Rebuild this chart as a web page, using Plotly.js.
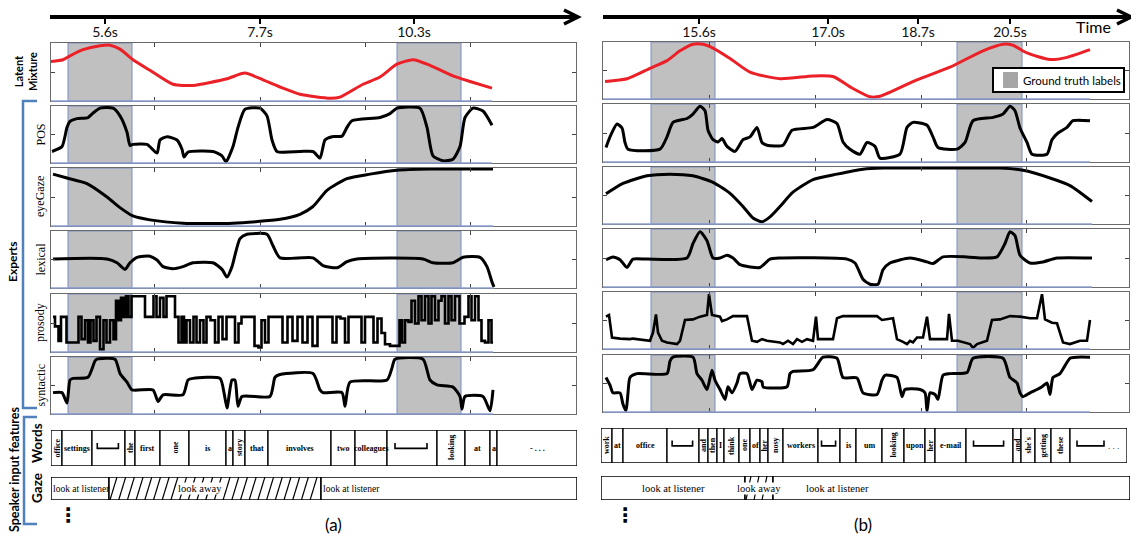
<!DOCTYPE html>
<html><head><meta charset="utf-8">
<script src="https://cdn.plot.ly/plotly-3.0.1.min.js"></script>
<style>html,body{margin:0;padding:0;background:#fff}#chart{width:1131px;height:538px}</style>
</head><body><div id="chart"></div>
<script>
// ---------------- DATA ----------------
// time-axis labels (panel x units)
const timeTickPosA = [54, 209, 363];
const timeTickTextA = ['5.6s', '7.7s', '10.3s'];
const timeTickPosB = [96, 225, 315, 407];
const timeTickTextB = ['15.6s', '17.0s', '18.7s', '20.5s'];
// ground-truth intervals
const truthA = [[17, 81], [346, 410]];
const truthB = [[48, 112], [354, 419]];
const expertNames = ['POS', 'eyeGaze', 'lexical', 'prosody', 'syntactic'];

// (a) series: [time, value]
const latentA = [[0,0.69],[12,0.72],[19,0.79],[32,0.90],[49,0.97],[59,0.98],[69,0.91],[82,0.72],[99,0.53],[122,0.28],[142,0.26],[176,0.38],[194,0.48],[212,0.36],[232,0.21],[249,0.10],[279,0.03],[289,0.05],[312,0.28],[329,0.41],[346,0.64],[362,0.72],[379,0.62],[402,0.43],[419,0.33],[441,0.21]];
const posA = [[1,0.19],[11,0.28],[16,0.63],[19,0.74],[26,0.79],[37,0.81],[42,0.89],[49,0.98],[62,0.98],[69,0.84],[76,0.54],[79,0.30],[82,0.32],[96,0.32],[106,0.16],[109,0.40],[116,0.46],[126,0.40],[131,0.23],[133,0.09],[137,0.18],[162,0.19],[171,0.11],[175,0.0],[182,0.28],[187,0.63],[194,0.96],[209,0.98],[216,0.84],[221,0.40],[226,0.19],[249,0.19],[262,0.19],[269,0.07],[274,0.40],[281,0.46],[291,0.47],[296,0.63],[301,0.75],[329,0.81],[339,0.88],[346,0.98],[369,0.98],[376,0.63],[382,0.11],[392,0.02],[402,0.05],[409,0.28],[414,0.81],[422,0.98],[432,0.93],[441,0.67]];
const gazeA = [[2,0.91],[16,0.84],[36,0.74],[56,0.50],[69,0.31],[82,0.16],[99,0.09],[132,0.03],[182,0.03],[229,0.10],[249,0.19],[262,0.33],[276,0.62],[296,0.83],[319,0.91],[346,0.98],[379,1.0],[442,1.0]];
const lexA = [[2,0.51],[56,0.51],[66,0.44],[74,0.32],[79,0.44],[86,0.54],[99,0.56],[106,0.49],[112,0.37],[122,0.33],[132,0.37],[142,0.44],[162,0.44],[171,0.32],[176,0.18],[181,0.37],[184,0.58],[189,0.88],[196,0.96],[216,0.96],[222,0.75],[229,0.53],[262,0.53],[272,0.39],[286,0.35],[296,0.46],[306,0.51],[372,0.51],[382,0.44],[402,0.44],[412,0.54],[429,0.54],[436,0.37],[441,0.09],[443,0.0]];
const prosA = [[2,0.61],[6,0.44],[9,0.18],[11,0.61],[14,0.61],[17,0.15],[26,0.15],[29,0.61],[32,0.21],[36,0.55],[38,0.15],[41,0.55],[44,0.18],[47,0.61],[51,0.03],[54,0.55],[57,0.15],[61,0.55],[64,0.21],[66,0.90],[69,0.55],[71,0.95],[74,0.61],[76,0.98],[79,0.61],[82,0.98],[86,0.98],[92,0.98],[96,0.61],[101,0.61],[104,0.98],[107,0.61],[111,0.95],[114,0.61],[117,0.98],[122,0.98],[126,0.61],[129,0.15],[132,0.61],[134,0.15],[137,0.55],[141,0.15],[144,0.61],[147,0.15],[151,0.55],[154,0.15],[157,0.61],[162,0.55],[166,0.15],[169,0.61],[174,0.21],[177,0.61],[182,0.61],[186,0.15],[189,0.49],[192,0.61],[201,0.61],[206,0.09],[209,0.06],[212,0.55],[216,0.15],[219,0.61],[224,0.61],[229,0.61],[234,0.15],[239,0.61],[244,0.18],[249,0.61],[254,0.15],[259,0.61],[264,0.09],[269,0.61],[279,0.61],[284,0.15],[287,0.61],[292,0.58],[296,0.15],[299,0.61],[309,0.61],[312,0.15],[316,0.61],[321,0.61],[324,0.15],[329,0.58],[332,0.32],[336,0.12],[342,0.09],[347,0.09],[350,0.55],[352,0.15],[356,0.55],[359,0.52],[362,0.90],[366,0.49],[369,0.98],[372,0.55],[376,0.98],[379,0.49],[382,0.98],[386,0.55],[389,0.90],[392,0.98],[396,0.49],[399,0.98],[402,0.55],[406,0.98],[411,0.49],[416,0.61],[419,0.98],[422,0.55],[426,0.98],[429,0.55],[432,0.18],[436,0.15],[439,0.55],[442,0.15]];
const synA = [[2,0.37],[11,0.37],[16,0.18],[19,0.60],[22,0.63],[37,0.65],[44,0.95],[46,0.98],[64,0.98],[69,0.72],[76,0.56],[81,0.42],[102,0.42],[107,0.21],[112,0.33],[132,0.33],[137,0.60],[142,0.63],[169,0.63],[173,0.37],[176,0.09],[181,0.60],[184,0.60],[187,0.12],[191,0.30],[219,0.30],[224,0.65],[229,0.70],[262,0.72],[269,0.42],[272,0.37],[291,0.37],[294,0.12],[299,0.56],[336,0.60],[341,0.82],[344,0.98],[372,0.98],[379,0.60],[386,0.51],[402,0.47],[409,0.30],[411,0.07],[414,0.30],[432,0.30],[439,0.04],[442,0.42]];

// (b) series
const latentB = [[2,0.30],[24,0.35],[47,0.54],[64,0.68],[77,0.86],[90,0.98],[100,0.98],[110,0.91],[127,0.72],[147,0.47],[177,0.35],[210,0.40],[230,0.39],[249,0.18],[267,0.02],[277,0.03],[314,0.33],[347,0.56],[380,0.86],[400,0.98],[410,0.96],[424,0.82],[447,0.70],[464,0.74],[487,0.88]];
const posB = [[3,0.24],[7,0.43],[14,0.66],[19,0.59],[22,0.33],[25,0.21],[57,0.21],[64,0.43],[70,0.69],[84,0.76],[90,0.84],[97,0.98],[102,0.90],[105,0.55],[110,0.38],[115,0.34],[119,0.40],[124,0.26],[132,0.17],[140,0.38],[147,0.43],[154,0.60],[159,0.33],[164,0.28],[180,0.28],[189,0.55],[210,0.60],[224,0.74],[234,0.67],[240,0.34],[247,0.21],[257,0.12],[264,0.33],[272,0.26],[277,0.05],[297,0.12],[304,0.60],[310,0.69],[324,0.64],[330,0.43],[335,0.24],[354,0.21],[362,0.33],[370,0.72],[390,0.78],[400,0.84],[407,0.98],[412,0.90],[417,0.59],[424,0.33],[429,0.12],[444,0.12],[449,0.38],[455,0.50],[464,0.60],[470,0.72],[487,0.72]];
const gazeB = [[3,0.53],[20,0.72],[44,0.86],[67,0.89],[90,0.86],[110,0.74],[127,0.54],[140,0.30],[150,0.09],[159,0.02],[167,0.11],[177,0.30],[190,0.56],[210,0.79],[234,0.89],[260,0.98],[280,1.0],[347,1.0],[397,1.0],[420,0.96],[447,0.82],[467,0.68],[489,0.39]];
const lexB = [[3,0.47],[10,0.52],[17,0.47],[24,0.33],[30,0.48],[44,0.48],[84,0.50],[90,0.76],[97,0.97],[104,0.81],[110,0.50],[117,0.50],[124,0.55],[130,0.50],[137,0.38],[147,0.34],[157,0.33],[167,0.48],[177,0.50],[244,0.48],[252,0.41],[260,0.12],[267,0.03],[275,0.03],[280,0.29],[287,0.41],[307,0.50],[324,0.43],[330,0.40],[340,0.52],[364,0.52],[380,0.50],[394,0.52],[402,0.76],[407,0.97],[412,0.90],[417,0.55],[427,0.41],[440,0.43],[454,0.50],[489,0.50]];
const prosB = [[3,0.57],[6,0.60],[9,0.19],[17,0.17],[27,0.16],[30,0.17],[47,0.13],[50,0.28],[53,0.61],[55,0.28],[59,0.13],[64,0.10],[74,0.07],[77,0.13],[82,0.51],[90,0.52],[97,0.57],[104,0.60],[106,0.98],[109,0.60],[117,0.57],[119,0.49],[124,0.52],[130,0.58],[144,0.58],[149,0.13],[154,0.11],[159,0.16],[164,0.13],[170,0.11],[177,0.10],[180,0.07],[185,0.13],[190,0.07],[194,0.16],[199,0.11],[204,0.16],[210,0.13],[213,0.57],[215,0.16],[230,0.16],[234,0.54],[240,0.58],[274,0.58],[279,0.51],[290,0.54],[294,0.16],[300,0.11],[304,0.07],[307,0.13],[310,0.10],[314,0.19],[320,0.19],[324,0.57],[327,0.16],[344,0.16],[346,0.62],[349,0.13],[355,0.13],[367,0.07],[370,0.0],[374,0.07],[384,0.13],[389,0.51],[397,0.52],[407,0.58],[417,0.57],[427,0.54],[434,0.54],[439,0.98],[442,0.52],[449,0.46],[454,0.45],[460,0.10],[467,0.07],[477,0.13],[484,0.13],[487,0.51]];
const synB = [[3,0.61],[7,0.47],[10,0.33],[17,0.33],[20,0.12],[23,0.0],[25,0.33],[27,0.61],[34,0.68],[64,0.68],[67,0.91],[70,0.98],[90,0.98],[94,0.68],[99,0.56],[104,0.39],[109,0.74],[112,0.56],[117,0.39],[122,0.21],[125,0.44],[129,0.33],[134,0.51],[137,0.68],[144,0.68],[149,0.39],[154,0.56],[159,0.53],[160,0.44],[184,0.44],[187,0.68],[190,0.72],[210,0.75],[220,0.98],[234,0.96],[240,0.61],[254,0.60],[260,0.33],[274,0.30],[279,0.56],[282,0.65],[294,0.61],[299,0.26],[302,0.39],[317,0.39],[322,0.33],[324,0.0],[327,0.33],[332,0.30],[335,0.21],[340,0.65],[347,0.68],[364,0.70],[370,0.96],[400,0.96],[407,0.61],[414,0.51],[417,0.33],[420,0.26],[427,0.33],[434,0.39],[439,0.44],[444,0.51],[447,0.30],[450,0.61],[457,0.68],[467,0.96],[474,0.98],[487,0.98]];

// words (token '_' = pause)
const wordsA = ['office','settings','_','the','first','one','is','a','story','that','involves','two','colleagues','_','looking','at','a','- . . .'];
const wordEdgesA = [0,11,41,74,84,109,138,175,182,194,217,280,304,336,386,414,439,446,526];
const wordsB = ['work','at','office','_','and','then','I','think','one','of','her','nosy','workers','_','is','um','looking','upon','her','e-mail','_','and',"she's",'getting','these','_. . .'];
const wordEdgesB = [0,11,22,66,98,107,116,123,138,149,159,167,182,217,239,255,281,303,324,334,365,412,420,434,450,469,526];
const verticalWords = ['office','the','story','looking','work','and','then','think','one','her','nosy',"she's",'getting','these'];
const horizontalInB = ['office'];
// gaze
const gazeLabelsA = ['look at listener','look away','look at listener'];
const gazeEdgesA = [0, 58, 270, 526];
const gazeLabelsB = ['look at listener','look away','look at listener'];
const gazeEdgesB = [0, 144, 172, 529];

// ---------------- LAYOUT ----------------
const W = 1131, H = 538;
const X = p => p / W, Y = p => 1 - p / H;
const layout = {width: W, height: H, margin: {l:0, r:0, t:0, b:0}, paper_bgcolor: '#fff', plot_bgcolor: 'rgba(0,0,0,0)', showlegend: false};
const traces = [], shapes = [], annotations = [];
const FR = '#6a6a6a';
const SERIF = 'Liberation Serif, serif';

const cols = [
  {dom:[51,576], rows:[[43,101],[106,163],[168,226],[231,288],[294,352],[357,414]], ticks:[103,209,314,419], truth: truthA, series:[latentA,posA,gazeA,lexA,prosA,synA], prosShape:'hvh'},
  {dom:[603,1129], rows:[[42,99],[104,162],[167,224],[229,287],[292,349],[355,412]], ticks:[106,212,318,423], truth: truthB, series:[latentB,posB,gazeB,lexB,prosB,synB], prosShape:'linear'}
];
let n = 1;
const ax = k => (k === 1 ? '' : String(k));
cols.forEach((col, ci) => {
  col.rows.forEach((r, ri) => {
    const k = n++;
    const xid = 'x' + ax(k), yid = 'y' + ax(k);
    layout['xaxis' + ax(k)] = {domain:[X(col.dom[0]), X(col.dom[1])], range:[0, col.dom[1]-col.dom[0]], anchor: yid,
      showline:true, mirror:'ticks', linecolor:FR, linewidth:1, ticks:'inside', ticklen:4, tickwidth:1, tickcolor:'#444',
      tickvals: col.ticks, showticklabels:false, showgrid:false, zeroline:false, fixedrange:true};
    layout['yaxis' + ax(k)] = {domain:[Y(r[1]), Y(r[0])], range:[-0.02, 1.02], anchor: xid,
      showline:true, mirror:'ticks', linecolor:FR, linewidth:1, ticks:'inside', ticklen:4, tickwidth:1, tickcolor:'#444',
      tickvals:[0.5], showticklabels:false, showgrid:false, zeroline:false, fixedrange:true};
    const s = col.series[ri];
    traces.push({type:'scatter', mode:'lines', x: s.map(p => p[0]), y: s.map(p => p[1]), xaxis: xid, yaxis: yid,
      line:{color: ri === 0 ? '#ec2027' : '#000', width: ri === 4 ? 2.6 : 3, shape: ri === 4 ? col.prosShape : 'spline', smoothing: 0.6},
      hoverinfo:'skip', cliponaxis: true});
    col.truth.forEach(g => shapes.push({type:'rect', xref: xid, yref: yid + ' domain', x0: g[0], x1: g[1], y0: 0, y1: 1,
      fillcolor:'#c0c0c0', line:{color:'#7b8cc6', width:1}, layer:'below'}));
    // bluish bottom edge along the recorded span
    shapes.push({type:'line', xref: xid, yref: yid + ' domain', x0: 0, x1: s[s.length-1][0], y0: 0, y1: 0,
      line:{color:'#8e9fd2', width:1.5}, layer:'above'});
    if (ci === 0 && ri > 0) {
      annotations.push({xref:'paper', yref:'paper', x: X(40), y: Y((r[0]+r[1])/2), xanchor:'center', yanchor:'middle',
        text: expertNames[ri-1], textangle:-90, showarrow:false, font:{family:SERIF, size:12, color:'#000'}});
    }
  });
});

// words rows
function wordsRow(k, dom, ydom, words, edges) {
  const xid = 'x' + k, yid = 'y' + k;
  layout['xaxis' + k] = {domain:[X(dom[0]), X(dom[1])], range:[0, dom[1]-dom[0]], anchor:yid, visible:false, fixedrange:true};
  layout['yaxis' + k] = {domain:[Y(ydom[1]), Y(ydom[0])], range:[-0.5, 0.5], anchor:xid, visible:false, fixedrange:true};
  traces.push({type:'bar', orientation:'h', xaxis:xid, yaxis:yid, y: words.map(() => 0),
    base: edges.slice(0, -1), x: edges.slice(1).map((e, i) => e - edges[i]), width: 1,
    marker:{color:'#fff', line:{color:'#000', width:1.3}}, cliponaxis:false, hoverinfo:'skip'});
  words.forEach((w, i) => {
    const a = edges[i], b = edges[i+1], wd = b - a;
    if (w.startsWith('_')) {
      const rest = w.slice(1);
      const bx0 = rest ? a + 7 : a + wd * 0.16, bx1 = rest ? a + 34 : b - wd * 0.2;
      shapes.push({type:'path', xref:xid, yref:yid, path:`M ${bx0},0.14 L ${bx0},-0.01 L ${bx1},-0.01 L ${bx1},0.14`,
        line:{color:'#000', width:1.6}});
      if (rest) annotations.push({xref:xid, yref:yid, x: bx1 + 2, xanchor:'left', yanchor:'middle', y: 0, text: rest, showarrow:false,
        font:{family:SERIF, size:9, color:'#000'}});
      return;
    }
    const vert = verticalWords.includes(w) && !(k === 14 && horizontalInB.includes(w));
    annotations.push({xref:xid, yref:yid, x:(a+b)/2, y:0, xanchor:'center', yanchor:'middle', text:'<b>' + w + '</b>',
      textangle: vert ? -90 : 0, showarrow:false, font:{family:SERIF, size:8, color:'#000'}});
  });
}
wordsRow(13, [51,577], [430,466], wordsA, wordEdgesA);
wordsRow(14, [601,1127], [428,463], wordsB, wordEdgesB);

// gaze rows
function gazeRow(k, dom, ydom, labels, edges, place, step, slant) {
  const xid = 'x' + k, yid = 'y' + k;
  layout['xaxis' + k] = {domain:[X(dom[0]), X(dom[1])], range:[0, dom[1]-dom[0]], anchor:yid, visible:false, fixedrange:true};
  layout['yaxis' + k] = {domain:[Y(ydom[1]), Y(ydom[0])], range:[-0.5, 0.5], anchor:xid, visible:false, fixedrange:true};
  traces.push({type:'bar', orientation:'h', xaxis:xid, yaxis:yid, y: labels.map(() => 0),
    base: edges.slice(0, -1), x: edges.slice(1).map((e, i) => e - edges[i]), width: 1,
    marker:{color:'#fff', line:{color:'#000', width:1.5}}, cliponaxis:false, hoverinfo:'skip'});
  labels.forEach((t, i) => {
    const a = edges[i], b = edges[i+1];
    if (t === 'look away') {
      for (let xx = a + slant + 1; xx <= b; xx += step) {
        shapes.push({type:'line', xref:xid, yref:yid, x0: xx - slant, y0:-0.5, x1: xx, y1: 0.5, line:{color:'#000', width:1.2}});
      }
    }
    const p = place[i];
    annotations.push({xref:xid, yref:yid, x: p[0] === 'l' ? a + 1 : (p[0] === 'c' ? (a+b)/2 : p[0]),
      xanchor: p[0] === 'l' ? 'left' : 'center', yanchor:'middle',
      y: 0, text: t, showarrow:false, bgcolor: t === 'look away' ? '#fff' : 'rgba(0,0,0,0)', borderpad: 0,
      font:{family:SERIF, size: p[1], color:'#000'}});
  });
}
gazeRow(15, [51,577], [477,500], gazeLabelsA, gazeEdgesA, [['l',9.5],[149,10.5],['l',9.5]], 8.7, 7);
gazeRow(16, [601,1130], [476,500], gazeLabelsB, gazeEdgesB, [['c',10.5],['c',10.5],[236,10.5]], 8, 5);

// time axes
function timeAxis(k, dom, range, pos, txt) {
  const xid = 'x' + k, yid = 'y' + k;
  layout['xaxis' + k] = {domain:[X(dom[0]), X(dom[1])], range: range, anchor: yid, showline:true, linecolor:'#000', linewidth:4,
    ticks:'outside', ticklen:5, tickwidth:2, tickcolor:'#000', tickvals: pos, ticktext: txt, showgrid:false, zeroline:false,
    ticklabelstandoff: -4,
    tickfont:{family:'Lato, sans-serif', size:14, color:'#111'}, fixedrange:true};
  layout['yaxis' + k] = {domain:[Y(15), Y(12)], range:[0, 1], anchor: xid, visible:false, fixedrange:true};
  traces.push({type:'scatter', mode:'markers', x:[pos[0]], y:[0.5], xaxis:xid, yaxis:yid, marker:{opacity:0}, hoverinfo:'skip'});
}
timeAxis(17, [50,576], [-1, 525], timeTickPosA, timeTickTextA);
timeAxis(18, [603,1128], [0, 525], timeTickPosB, timeTickTextB);
const P = (x, y) => `${X(x)},${Y(y)}`;
shapes.push({type:'path', xref:'paper', yref:'paper', path:`M ${P(564,10)} L ${P(578,17)} L ${P(564,24)}`, line:{color:'#000', width:3.5}});
shapes.push({type:'path', xref:'paper', yref:'paper', path:`M ${P(1117,10)} L ${P(1131,17)} L ${P(1117,24)}`, line:{color:'#000', width:3.5}});

// legend box
shapes.push({type:'rect', xref:'paper', yref:'paper', x0:X(993), x1:X(1124), y0:Y(92), y1:Y(68), fillcolor:'#fff', line:{color:'#000', width:2}, layer:'above'});
shapes.push({type:'rect', xref:'paper', yref:'paper', x0:X(1003), x1:X(1018), y0:Y(88), y1:Y(72), fillcolor:'#a6a6a6', line:{width:0}, layer:'above'});
annotations.push({xref:'paper', yref:'paper', x:X(1021), y:Y(80), xanchor:'left', yanchor:'middle', text:'Ground truth labels', showarrow:false,
  font:{family:'Lato, sans-serif', size:11.5, color:'#000'}});

// blue brackets
const BL = '#4f81bd';
shapes.push({type:'path', xref:'paper', yref:'paper', path:`M ${P(37,101)} L ${P(23,101)} L ${P(23,408)} L ${P(37,408)}`, line:{color:BL, width:2.5}});
shapes.push({type:'path', xref:'paper', yref:'paper', path:`M ${P(37,417)} L ${P(24,417)} L ${P(24,524)} L ${P(37,524)}`, line:{color:BL, width:2.5}});

// text labels
const lab = (x, y, t, s, ang, fam) => annotations.push({xref:'paper', yref:'paper', x:X(x), y:Y(y), xanchor:'center', yanchor:'middle',
  text:t, textangle:ang || 0, showarrow:false, font:{family: fam || 'Lato, sans-serif', size:s, color:'#000'}});
lab(25, 72, '<b>Latent</b><br><b>Mixture</b>', 11, -90);
lab(12, 262, '<b>Experts</b>', 12, -90);
lab(14, 470, '<b>Speaker input features</b>', 12.5, -90);
lab(37, 443, '<b>Words</b>', 13.5, -90);
lab(37, 488, '<b>Gaze</b>', 13.5, -90);
lab(333, 524, '(a)', 17, 0);
lab(863, 524, '(b)', 17, 0);
lab(1093, 27, 'Time', 16, 0);
lab(68, 515, '<b>⋮</b>', 20, 0, 'DejaVu Sans');
lab(625, 515, '<b>⋮</b>', 20, 0, 'DejaVu Sans');

layout.shapes = shapes;
layout.annotations = annotations;
Plotly.newPlot('chart', traces, layout, {staticPlot:true, displayModeBar:false});
</script>
</body></html>
